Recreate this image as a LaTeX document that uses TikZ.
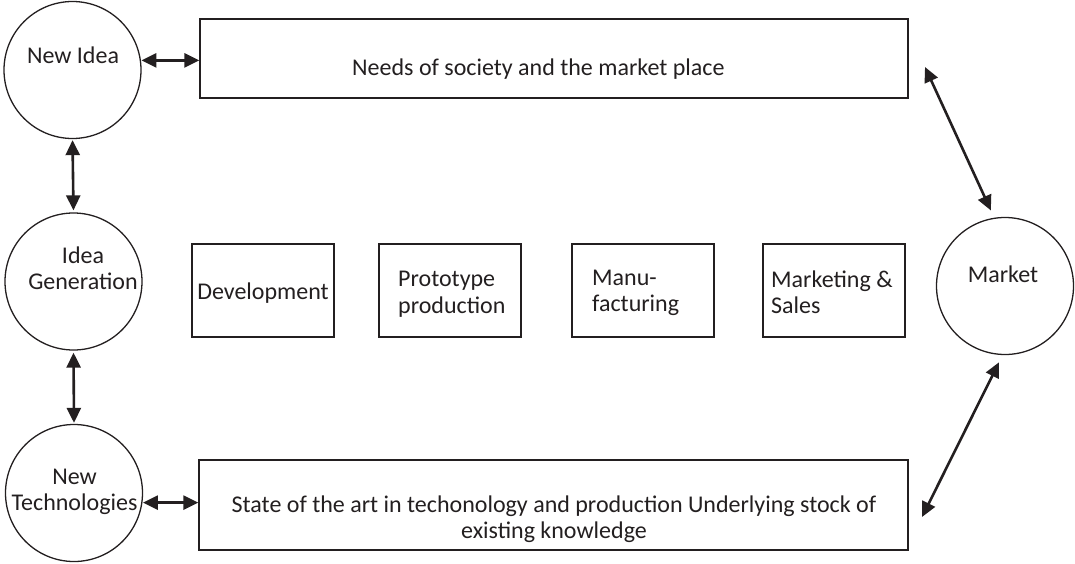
\documentclass[tikz,border=0pt]{standalone}
\usepackage{fontspec}
\setmainfont{Carlito}
\usetikzlibrary{arrows.meta}
\definecolor{ink}{RGB}{35,31,32}
\begin{document}
\begin{tikzpicture}[x=1pt,y=-1pt,
  font=\fontsize{24}{26.5}\selectfont,
  every node/.style={text=ink},
  ring/.style={draw=ink, line width=1.3pt, circle, inner sep=0pt, minimum size=137pt},
  box/.style={draw=ink, line width=1.4pt, rectangle, inner sep=0pt},
  stage/.style={box, minimum width=142pt, minimum height=93pt},
  label/.style={inner sep=0pt},
  biarrow/.style={draw=ink, line width=2.6pt, {Triangle[length=15pt,width=14pt]}-{Triangle[length=15pt,width=14pt]}}
]
\useasboundingbox (0,0) rectangle (1075,563);

% left column of circles and the market
\node[ring] (newidea) at (72.5,70) {};
\node[ring] (ideagen) at (73.5,281.5) {};
\node[ring] (newtech) at (74,493) {};
\node[ring] (market)  at (1005,286) {};

\node[label, anchor=base] (newidea-t) at (73,63) {New Idea};
\node[label, align=center] (ideagen-t) at (83,268) {Idea\\Generation};
\node[label, align=center] (newtech-t) at (74.5,492) {New\\Technologies};
\node[label, anchor=base] (market-t) at (1003,282) {Market};

% context bands
\node[box, minimum width=708pt, minimum height=79pt] (needs) at (554,58.5) {};
\node[label, anchor=base west] (needs-t) at (352,75) {Needs of society and the market place};

\node[box, minimum width=709pt, minimum height=90pt] (stock) at (553.5,505) {};
\node[label, align=center] (stock-t) at (554,519) {State of the art in techonology and production Underlying stock of\\existing knowledge};

% development stages
\node[stage] (dev)   at (263,290.5) {};
\node[stage] (proto) at (450,290.5) {};
\node[stage] (manu)  at (643,290.5) {};
\node[stage] (mkt)   at (834,290.5) {};

\node[label, anchor=base] (dev-t) at (263,299) {Development};
\node[label, align=left, anchor=west] (proto-t) at (398,294) {Prototype\\production};
\node[label, align=left, anchor=west] (manu-t) at (592,293) {Manu-\\facturing};
\node[label, align=left, anchor=west] (mkt-t) at (771,292) {Marketing \&\\Sales};

% connectors
\draw[biarrow, shorten <=0.5pt] (newidea.8) -- (needs.west |- newidea.8);
\draw[biarrow, shorten <=0.5pt] (newtech.-8) -- (stock.west |- newtech.-8);
\draw[biarrow, shorten <=1pt, shorten >=2pt] (newidea.south) -- (ideagen.north);
\draw[biarrow, shorten <=2pt, shorten >=1pt] (ideagen.south) -- (newtech.north);

\coordinate (mtop) at (925,67);
\coordinate (mbot) at (922,517);
\draw[biarrow, shorten >=8pt] (mtop) -- (market.99);
\draw[biarrow, shorten <=8pt] (market.-92) -- (mbot);
\end{tikzpicture}
\end{document}
